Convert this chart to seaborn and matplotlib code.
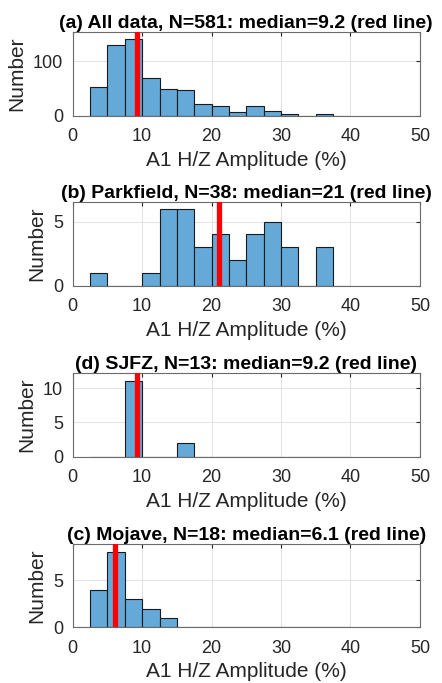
import numpy as np
import pandas as pd
import matplotlib
matplotlib.use("Agg")
import matplotlib.pyplot as plt
import seaborn as sns

# Histogram bin edges (2.5 % wide) and counts per region
bin_edges = [2.5 * k for k in range(1, 17)]
bin_centers = [e + 1.25 for e in bin_edges[:-1]]

counts_all = [53, 129, 141, 69, 49, 47, 21, 18, 7, 18, 9, 3, 0, 3, 0]
counts_parkfield = [1, 0, 0, 1, 6, 6, 3, 4, 2, 4, 5, 3, 0, 3, 0]
counts_sjfz = [0, 0, 11, 0, 0, 2, 0, 0, 0, 0, 0, 0, 0, 0, 0]
counts_mojave = [4, 8, 3, 2, 1, 0, 0, 0, 0, 0, 0, 0, 0, 0, 0]

titles = [
    "(a) All data, N=581: median=9.2 (red line)",
    "(b) Parkfield, N=38: median=21 (red line)",
    "(d) SJFZ, N=13: median=9.2 (red line)",
    "(c) Mojave, N=18: median=6.1 (red line)",
]
medians = [9.2, 21, 9.2, 6.1]
y_tops = [153, 6.5, 12.2, 8.9]
y_ticks = [[0, 100], [0, 5], [0, 5, 10], [0, 5]]
x_ticks = [0, 10, 20, 30, 40, 50]

sns.set_style("white")
plt.rcParams["font.family"] = ["Liberation Sans", "DejaVu Sans"]

fig = plt.figure(figsize=(4.42, 6.83), dpi=100)

# axes rectangles [left, bottom, width, height] in figure fractions
left, width, height = 0.1645, 0.7855, 0.1225
bottoms = [0.8302, 0.5813, 0.3313, 0.0815]

all_counts = [counts_all, counts_parkfield, counts_sjfz, counts_mojave]
ink = "#262626"

for i in range(4):
    ax = fig.add_axes([left, bottoms[i], width, height])
    df = pd.DataFrame({"amp": bin_centers, "n": all_counts[i]})
    sns.histplot(data=df, x="amp", weights="n", bins=bin_edges, ax=ax,
                 color="#64A9D8", alpha=1.0, edgecolor="#1a1a1a",
                 linewidth=0.8, zorder=2)
    ax.axvline(medians[i], color="red", lw=3.8, zorder=3)
    ax.set_xlim(0, 50)
    ax.set_ylim(0, y_tops[i])
    ax.set_xticks(x_ticks)
    ax.set_yticks(y_ticks[i])
    ax.grid(True, color="#e3e3e3", lw=0.8, zorder=0)
    ax.set_axisbelow(True)
    ax.tick_params(direction="in", length=3, width=0.8, color=ink,
                   labelcolor=ink, labelsize=13, top=True, right=True)
    ax.tick_params(axis="x", pad=9)
    ax.tick_params(axis="y", pad=7)
    for s in ax.spines.values():
        s.set_color("#6b6b6b")
        s.set_linewidth(0.8)
    ax.set_xlabel("A1 H/Z Amplitude (%)", fontsize=15, color=ink, labelpad=4)
    ax.set_ylabel("Number", fontsize=15, color=ink, labelpad=5)
    ax.set_title(titles[i], fontsize=14, fontweight="bold", color="black",
                 pad=3)

fig.savefig("out.png", dpi=100)
